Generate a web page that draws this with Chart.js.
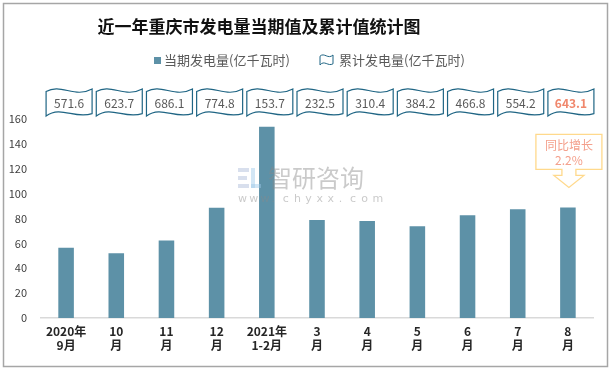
<!DOCTYPE html>
<html>
<head>
<meta charset="utf-8">
<script src="https://cdn.jsdelivr.net/npm/chart.js@4"></script>
<style>
html,body{margin:0;padding:0;background:#fff;}
#wrap{position:relative;width:616px;height:370px;}
</style>
</head>
<body>
<div id="wrap"><canvas id="c" width="616" height="370"></canvas></div>
<script>
const categories = [['2020年','9月'],['10','月'],['11','月'],['12','月'],['2021年','1-2月'],['3','月'],['4','月'],['5','月'],['6','月'],['7','月'],['8','月']];
const currentValues = [56.5, 52.1, 62.4, 88.7, 153.7, 78.8, 77.9, 73.8, 82.6, 87.4, 88.9];
const cumulativeValues = [571.6, 623.7, 686.1, 774.8, 153.7, 232.5, 310.4, 384.2, 466.8, 554.2, 643.1];
const yTicks = [0, 20, 40, 60, 80, 100, 120, 140, 160];
const titleText = '近一年重庆市发电量当期值及累计值统计图';
const legendCurrent = '当期发电量(亿千瓦时)';
const legendCumulative = '累计发电量(亿千瓦时)';
const calloutLines = ['同比增长', '2.2%'];

const BAR = '#5d91a7';
const WAVE = '#1f6584';
const CJK = '"Noto Sans CJK SC","Noto Sans",sans-serif';

function wavePath(ctx, x0, y0, w, h, a) {
  const x1 = x0 + w;
  ctx.beginPath();
  ctx.moveTo(x0, y0 + a * 0.4);
  ctx.bezierCurveTo(x0 + w * 0.33, y0 - a, x0 + w * 0.62, y0 + a * 1.6, x1, y0);
  ctx.lineTo(x1, y0 + h - a * 0.4);
  ctx.bezierCurveTo(x0 + w * 0.62, y0 + h + a * 0.6, x0 + w * 0.33, y0 + h - a * 1.8, x0, y0 + h);
  ctx.closePath();
}

const deco = {
  id: 'deco',
  beforeDraw(chart) {
    const ctx = chart.ctx;
    ctx.save();
    ctx.fillStyle = '#fff';
    ctx.fillRect(0, 0, 616, 370);
    ctx.strokeStyle = '#a6a6a6';
    ctx.lineWidth = 1.5;
    ctx.strokeRect(3.5, 3.5, 604, 363);
    // title
    ctx.fillStyle = '#111';
    ctx.font = 'bold 17px ' + CJK;
    ctx.textAlign = 'center';
    ctx.textBaseline = 'middle';
    ctx.fillText(titleText, 259, 27);
    // legend
    ctx.font = '13px ' + CJK;
    ctx.textAlign = 'left';
    ctx.fillStyle = BAR;
    ctx.fillRect(154, 57, 7, 7);
    ctx.fillStyle = '#595959';
    ctx.fillText(legendCurrent, 164, 60);
    ctx.strokeStyle = WAVE;
    ctx.lineWidth = 1;
    wavePath(ctx, 320, 55, 13, 10, 3);
    ctx.stroke();
    ctx.fillStyle = '#595959';
    ctx.fillText(legendCumulative, 339, 60);
    ctx.restore();
  },
  afterDatasetsDraw(chart) {
    const ctx = chart.ctx;
    const xs = chart.scales.x, ys = chart.scales.y;
    ctx.save();
    // wave boxes
    cumulativeValues.forEach((v, i) => {
      const cx = xs.getPixelForValue(i) + 3;
      const w = 46, h = 27;
      ctx.fillStyle = '#fff';
      ctx.strokeStyle = WAVE;
      ctx.lineWidth = 1.2;
      wavePath(ctx, cx - w / 2, 89, w, h, 6);
      ctx.fill();
      ctx.stroke();
      ctx.font = '12px ' + CJK;
      ctx.textAlign = 'center';
      ctx.textBaseline = 'middle';
      ctx.fillStyle = i === cumulativeValues.length - 1 ? '#f0876c' : '#595959';
      if (i === cumulativeValues.length - 1) ctx.font = 'bold 12px ' + CJK;
      ctx.fillText(v.toFixed(1), cx, 103);
    });
    // watermark
    ctx.globalAlpha = 0.45;
    ctx.fillStyle = '#a8b8d8';
    ctx.fillRect(238, 168, 11, 4);
    ctx.fillRect(238, 176, 9, 4);
    ctx.fillRect(238, 184, 11, 4);
    ctx.fillStyle = '#9cc7e8';
    ctx.fillRect(251, 168, 4, 20);
    ctx.fillRect(251, 184, 10, 4);
    ctx.fillStyle = '#8a8a8a';
    ctx.font = '24px ' + CJK;
    ctx.textAlign = 'left';
    ctx.textBaseline = 'middle';
    ctx.fillText('智研咨询', 268, 178);
    ctx.font = '11px "DejaVu Sans",sans-serif';
    const s = 'www.chyxx.com';
    for (let k = 0; k < s.length; k++) ctx.fillText(s[k], 238 + k * 11.2, 199);
    ctx.globalAlpha = 1;
    // callout
    const li = currentValues.length - 1;
    const cx = xs.getPixelForValue(li) + 1;
    const tipY = ys.getPixelForValue(currentValues[li]) - 20;
    const bx0 = cx - 33, bx1 = cx + 33, by0 = tipY - 53, by1 = tipY - 18;
    ctx.beginPath();
    ctx.moveTo(bx0, by0);
    ctx.lineTo(bx1, by0);
    ctx.lineTo(bx1, by1);
    ctx.lineTo(cx + 7, by1);
    ctx.lineTo(cx + 7, tipY - 12);
    ctx.lineTo(cx + 15, tipY - 12);
    ctx.lineTo(cx, tipY);
    ctx.lineTo(cx - 15, tipY - 12);
    ctx.lineTo(cx - 7, tipY - 12);
    ctx.lineTo(cx - 7, by1);
    ctx.lineTo(bx0, by1);
    ctx.closePath();
    ctx.fillStyle = '#fff';
    ctx.fill();
    ctx.strokeStyle = '#ffd98c';
    ctx.lineWidth = 1.3;
    ctx.stroke();
    ctx.fillStyle = '#f4a08c';
    ctx.font = '12px ' + CJK;
    ctx.textAlign = 'center';
    ctx.fillText(calloutLines[0], cx, by0 + 11);
    ctx.fillText(calloutLines[1], cx, by0 + 26);
    ctx.restore();
  }
};

new Chart(document.getElementById('c'), {
  type: 'bar',
  data: {
    labels: categories,
    datasets: [{
      label: legendCurrent,
      data: currentValues,
      backgroundColor: BAR,
      categoryPercentage: 1,
      barPercentage: 0.31
    }]
  },
  options: {
    responsive: false,
    animation: false,
    events: [],
    layout: { padding: { left: 0, right: 23, top: 119, bottom: 0 } },
    plugins: { legend: { display: false }, title: { display: false }, tooltip: { enabled: false } },
    scales: {
      x: {
        grid: { display: false, drawTicks: false },
        border: { display: true, color: '#d9d9d9', width: 1.5 },
        ticks: {
          color: '#262626',
          font: { family: CJK, size: 12, weight: 'bold' },
          padding: 6,
          maxRotation: 0,
          autoSkip: false
        },
        afterFit(s) { s.height = 52; }
      },
      y: {
        min: 0, max: 160,
        afterBuildTicks(s) { s.ticks = yTicks.map(v => ({ value: v })); },
        grid: { display: false, drawTicks: false },
        border: { display: false },
        ticks: {
          color: '#404040',
          font: { family: CJK, size: 11 },
          padding: 14
        },
        afterFit(s) { s.width = 41; }
      }
    }
  },
  plugins: [deco]
});
</script>
</body>
</html>
